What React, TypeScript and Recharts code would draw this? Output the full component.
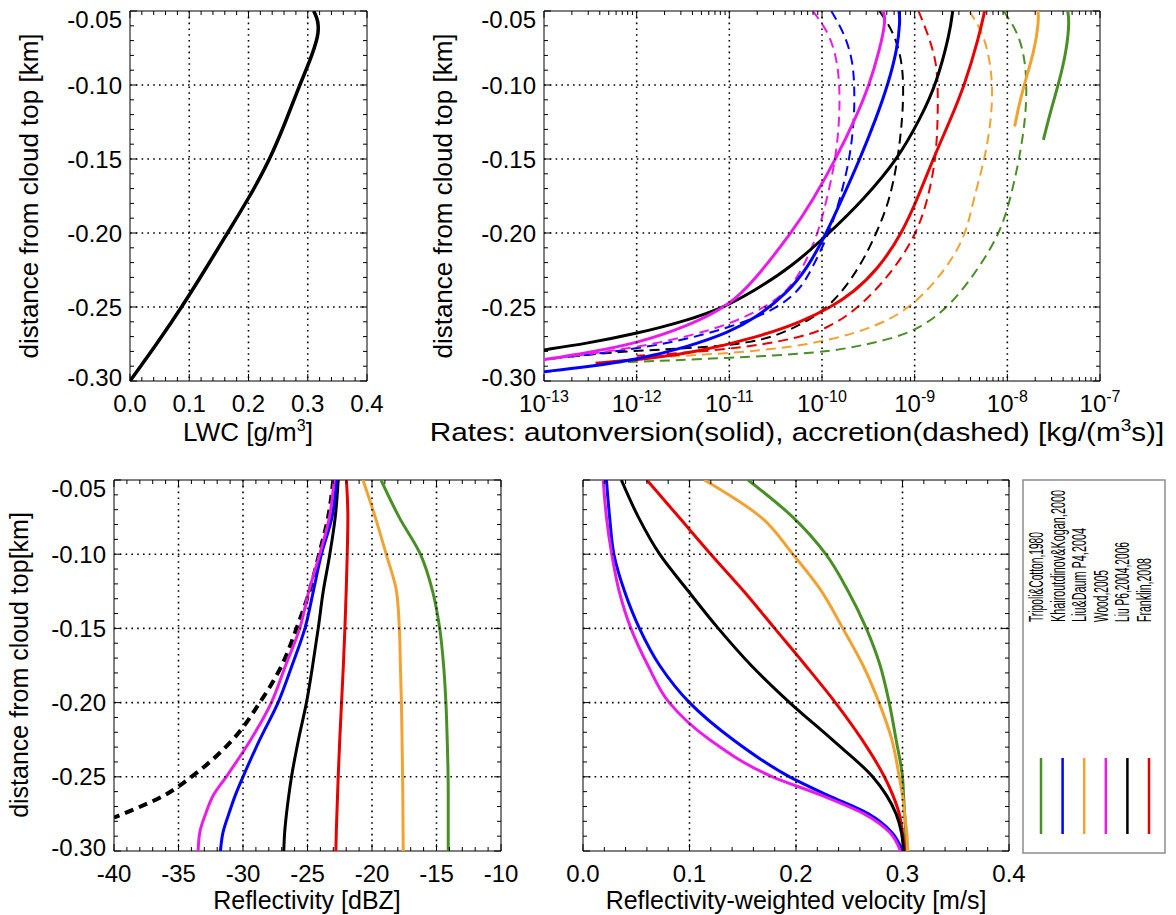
import React from 'react';
import { ScatterChart, Scatter, XAxis, YAxis, ReferenceArea } from 'recharts';

const FONT = '"Liberation Sans", Arial, Helvetica, sans-serif';

// ---------- colours / legend ----------
const legendNames = [
  'Tripoli&Cotton,1980',
  'Khairoutdinov&Kogan,2000',
  'Liu&Daum P4,2004',
  'Wood,2005',
  'Liu P6,2004,2006',
  'Franklin,2008',
];
const legendLengths = [90, 132, 94, 52, 80, 64];
const GREEN = '#4a8f26';
const BLUE = '#0000ff';
const ORANGE = '#f0a232';
const MAGENTA = '#e81ee8';
const BLACK = '#000000';
const RED = '#e60000';
const legendColors = [GREEN, BLUE, ORANGE, MAGENTA, BLACK, RED];

// ---------- axis ticks ----------
const heightTicks = [-0.3, -0.25, -0.2, -0.15, -0.1, -0.05];
const lwcTicks = [0, 0.1, 0.2, 0.3, 0.4];
const rateTicks = [1e-13, 1e-12, 1e-11, 1e-10, 1e-9, 1e-8, 1e-7];
const dbzTicks = [-40, -35, -30, -25, -20, -15, -10];
const velTicks = [0, 0.1, 0.2, 0.3, 0.4];

// ---------- panel 1: LWC ----------
const lwcHeights = [-0.05, -0.055, -0.06, -0.065, -0.07, -0.08, -0.09, -0.1, -0.125, -0.15, -0.175, -0.2, -0.225, -0.25, -0.275, -0.29, -0.3];
const lwcValues = [0.31, 0.316, 0.318, 0.3175, 0.315, 0.307, 0.297, 0.2865, 0.2625, 0.2365, 0.2027, 0.1645, 0.1265, 0.0875, 0.045, 0.018, 0.0];

// ---------- panel 2: rates (autoconversion solid, accretion dashed) ----------
const tripoliAutoZ = [-0.05, -0.0563, -0.0766, -0.1, -0.117, -0.137];
const tripoliAuto = [4.47e-8, 4.68e-8, 4.37e-8, 3.55e-8, 2.95e-8, 2.45e-8];
const liuDaumAutoZ = [-0.05, -0.0563, -0.0766, -0.1, -0.117, -0.128];
const liuDaumAuto = [2.14e-8, 2.19e-8, 1.97e-8, 1.51e-8, 1.3e-8, 1.2e-8];
const khairAutoZ = [-0.05, -0.0563, -0.0766, -0.1, -0.1216, -0.15, -0.178, -0.2, -0.223, -0.241, -0.258, -0.267, -0.277, -0.2855, -0.2905, -0.2937];
const khairAuto = [6.76e-10, 7.0e-10, 6.46e-10, 5.13e-10, 3.89e-10, 2.57e-10, 1.62e-10, 1.12e-10, 7.08e-11, 4.17e-11, 1.86e-11, 1.0e-11, 3.55e-12, 1.0e-12, 2.88e-13, 1.0e-13];
const woodAutoZ = [-0.05, -0.0563, -0.0766, -0.1, -0.1216, -0.15, -0.178, -0.2, -0.232, -0.249, -0.263, -0.2746, -0.281, -0.2855];
const woodAuto = [4.57e-10, 4.9e-10, 4.17e-10, 3.24e-10, 2.34e-10, 1.41e-10, 7.94e-11, 4.68e-11, 1.86e-11, 1.0e-11, 3.55e-12, 1.0e-12, 2.88e-13, 1.0e-13];
const liuP6AutoZ = [-0.05, -0.065, -0.1, -0.1216, -0.15, -0.178, -0.2, -0.223, -0.239, -0.25, -0.259, -0.268, -0.2746, -0.279];
const liuP6Auto = [2.57e-9, 2.4e-9, 1.7e-9, 1.17e-9, 6.61e-10, 2.75e-10, 1.2e-10, 4.68e-11, 1.86e-11, 8.9e-12, 3.55e-12, 1.0e-12, 2.88e-13, 1.0e-13];
const franklinAutoZ = [-0.05, -0.0676, -0.1, -0.125, -0.15, -0.175, -0.2, -0.225, -0.24, -0.25, -0.26, -0.27, -0.28, -0.285, -0.288];
const franklinAuto = [5.69e-9, 4.94e-9, 3.47e-9, 2.37e-9, 1.58e-9, 1.1e-9, 7.36e-10, 3.96e-10, 2.18e-10, 1.26e-10, 6.0e-11, 2.11e-11, 4.75e-12, 1.37e-12, 3.6e-13];

const tripoliAccrZ = [-0.05, -0.065, -0.083, -0.1, -0.1216, -0.15, -0.178, -0.2, -0.223, -0.25, -0.268, -0.276, -0.281, -0.2845, -0.2875];
const tripoliAccr = [9.12e-9, 1.32e-8, 1.55e-8, 1.62e-8, 1.58e-8, 1.35e-8, 1.07e-8, 8.32e-9, 5.01e-9, 2.4e-9, 9.55e-10, 2.75e-10, 1.0e-10, 1.0e-11, 6.3e-13];
const liuDaumAccrZ = [-0.05, -0.065, -0.083, -0.1, -0.1216, -0.15, -0.178, -0.2, -0.223, -0.25, -0.263, -0.272, -0.2785, -0.2825, -0.2845];
const liuDaumAccr = [3.89e-9, 5.5e-9, 6.46e-9, 6.92e-9, 6.76e-9, 5.75e-9, 4.27e-9, 3.63e-9, 2.29e-9, 9.55e-10, 3.89e-10, 1.32e-10, 3.47e-11, 5.0e-12, 1.0e-12];
const franklinAccrZ = [-0.05, -0.065, -0.083, -0.1, -0.1216, -0.15, -0.178, -0.2, -0.223, -0.25, -0.265, -0.271, -0.2765, -0.281, -0.283];
const franklinAccr = [1.1e-9, 1.38e-9, 1.7e-9, 1.78e-9, 1.78e-9, 1.7e-9, 1.38e-9, 1.05e-9, 6.31e-10, 2.63e-10, 1.12e-10, 5.25e-11, 1.86e-11, 3.55e-12, 1.0e-12];
const liuP6AccrZ = [-0.05, -0.065, -0.083, -0.1, -0.1216, -0.15, -0.178, -0.2, -0.223, -0.25, -0.265, -0.2746, -0.278, -0.28, -0.2835];
const liuP6Accr = [4.17e-10, 6.03e-10, 7.24e-10, 7.59e-10, 7.41e-10, 6.61e-10, 5.37e-10, 3.89e-10, 2.57e-10, 1.26e-10, 4.9e-11, 1.86e-11, 3.55e-12, 6.61e-13, 2.0e-13];
const khairAccrZ = [-0.05, -0.065, -0.083, -0.1, -0.1216, -0.15, -0.178, -0.2, -0.223, -0.238, -0.252, -0.264, -0.274, -0.28, -0.2855];
const khairAccr = [1.26e-10, 1.74e-10, 2.14e-10, 2.24e-10, 2.24e-10, 2.0e-10, 1.55e-10, 1.2e-10, 7.94e-11, 5.89e-11, 3.16e-11, 1.0e-11, 2.51e-12, 6.31e-13, 1.0e-13];
const woodAccrZ = [-0.05, -0.065, -0.083, -0.1, -0.1216, -0.15, -0.178, -0.2, -0.223, -0.241, -0.255, -0.266, -0.275, -0.281, -0.2855];
const woodAccr = [7.94e-11, 1.2e-10, 1.45e-10, 1.55e-10, 1.55e-10, 1.41e-10, 1.12e-10, 9.12e-11, 6.31e-11, 4.17e-11, 1.78e-11, 6.31e-12, 1.58e-12, 3.98e-13, 1.0e-13];

// ---------- panels 3 & 4: reflectivity and velocity ----------
const profileHeights = [-0.05, -0.075, -0.1, -0.125, -0.15, -0.175, -0.2, -0.225, -0.25, -0.2625, -0.275, -0.2875, -0.3];
const dbzTripoli = [-19.3, -17.9, -16.25, -15.3, -14.75, -14.45, -14.27, -14.17, -14.1, -14.09, -14.09, -14.09, -14.09];
const dbzLiuDaum = [-20.7, -19.75, -18.9, -18.1, -17.88, -17.8, -17.72, -17.67, -17.63, -17.61, -17.6, -17.59, -17.58];
const dbzFranklin = [-21.98, -21.87, -21.92, -22.0, -22.1, -22.22, -22.36, -22.5, -22.62, -22.67, -22.72, -22.77, -22.8];
const dbzLiuP6 = [-22.62, -22.85, -23.27, -23.78, -24.17, -24.6, -25.08, -25.7, -26.24, -26.45, -26.63, -26.77, -26.84];
const dbzKhair = [-22.75, -23.1, -23.92, -24.55, -25.2, -26.2, -27.28, -28.7, -30.0, -30.6, -31.1, -31.55, -31.75];
const dbzWood = [-22.93, -23.3, -24.05, -24.9, -25.6, -26.7, -27.8, -29.4, -31.3, -32.3, -32.9, -33.35, -33.48];
const dbzDashedHeights = [-0.05, -0.075, -0.1, -0.125, -0.15, -0.175, -0.2, -0.225, -0.25, -0.2625, -0.275, -0.2775];
const dbzDashed = [-23.0, -23.4, -24.1, -24.85, -25.85, -27.0, -28.7, -30.8, -34.0, -36.1, -39.3, -40.0];

const velTripoli = [0.155, 0.197, 0.228, 0.249, 0.266, 0.279, 0.2875, 0.294, 0.3, 0.301, 0.302, 0.303, 0.303];
const velLiuDaum = [0.114, 0.167, 0.197, 0.224, 0.244, 0.263, 0.278, 0.29, 0.297, 0.3, 0.302, 0.304, 0.305];
const velFranklin = [0.06, 0.09, 0.12, 0.151, 0.18, 0.209, 0.237, 0.262, 0.283, 0.291, 0.297, 0.3, 0.302];
const velLiuP6 = [0.036, 0.052, 0.072, 0.099, 0.127, 0.158, 0.194, 0.234, 0.272, 0.285, 0.294, 0.299, 0.301];
const velKhair = [0.022, 0.025, 0.029, 0.039, 0.053, 0.072, 0.1, 0.141, 0.194, 0.23, 0.268, 0.29, 0.3];
const velWood = [0.019, 0.022, 0.027, 0.034, 0.045, 0.061, 0.081, 0.119, 0.178, 0.224, 0.264, 0.288, 0.298];

// ---------- helpers ----------
type Pt = { x: number; y: number };
const toPts = (zs: number[], xs: number[]): Pt[] => zs.map((z, i) => ({ x: xs[i], y: z }));

const r4 = (v: number) => Math.round(v * 10000) / 10000;
const linMinor = (a: number, b: number, step: number) => {
  const out: number[] = [];
  const n = Math.round((b - a) / step);
  for (let i = 0; i <= n; i++) out.push(r4(a + i * step));
  return out;
};
const logMinor = () => {
  const out: number[] = [];
  for (let e = -13; e <= -7; e++) {
    for (let k = 1; k <= 9; k++) {
      const v = k * Math.pow(10, e);
      if (v <= 1.0001e-7) out.push(v);
    }
  }
  return out;
};

type Series = { data: Pt[]; color: string; width: number; dash?: string };

type PanelProps = {
  left: number; top: number; width: number; height: number;
  L: number; R: number; T: number; B: number;
  xDomain: [number, number];
  xTicks: number[];
  xMajors: number[];
  xLog?: boolean;
  xFmt: (v: number) => React.ReactNode;
  yTicks: number[];
  yMajors: number[];
  showYLabels: boolean;
  curve: 'basis' | 'monotoneY';
  series: Series[];
};

const EmptyShape = () => <g />;

const isIn = (v: number, arr: number[], log?: boolean) =>
  arr.some((m) => (log ? Math.abs(Math.log10(m) - Math.log10(v)) < 1e-6 : Math.abs(m - v) < 1e-6));

function Panel(p: PanelProps) {
  const l = p.L - p.left;
  const r = p.R - p.left;
  const t = p.T - p.top;
  const b = p.B - p.top;
  const xAxisH = p.top + p.height - p.B;

  const XTick = (props: any) => {
    const { payload } = props;
    const v = payload.value;
    const x = payload.coordinate ?? props.x;
    const major = isIn(v, p.xMajors, p.xLog);
    const edge = Math.abs(x - l) < 1.5 || Math.abs(x - r) < 1.5;
    const len = major ? 7 : 4;
    return (
      <g>
        {major && !edge && (
          <line x1={x} x2={x} y1={t} y2={b} stroke="#000" strokeWidth={1.6} strokeDasharray="1.6 4.2" />
        )}
        <line x1={x} x2={x} y1={b} y2={b - len} stroke="#000" strokeWidth={1} />
        <line x1={x} x2={x} y1={t} y2={t + len} stroke="#000" strokeWidth={1} />
        {major && (
          <text x={x} y={b + 31} textAnchor="middle" fontSize={24} fontFamily={FONT} fill="#000">
            {p.xFmt(v)}
          </text>
        )}
      </g>
    );
  };

  const YTick = (props: any) => {
    const { payload } = props;
    const v = payload.value;
    const y = payload.coordinate ?? props.y;
    const major = isIn(v, p.yMajors);
    const atTop = Math.abs(y - t) < 1.5;
    const atBottom = Math.abs(y - b) < 1.5;
    const len = major ? 7 : 4;
    const labelShift = atTop ? 8 : atBottom ? -4 : 0;
    return (
      <g>
        {major && !atTop && !atBottom && (
          <line x1={l} x2={r} y1={y} y2={y} stroke="#000" strokeWidth={1.6} strokeDasharray="1.6 4.2" />
        )}
        <line x1={l} x2={l + len} y1={y} y2={y} stroke="#000" strokeWidth={1} />
        <line x1={r - len} x2={r} y1={y} y2={y} stroke="#000" strokeWidth={1} />
        {major && p.showYLabels && (
          <text x={l - 8} y={y + labelShift} dy="0.36em" textAnchor="end" fontSize={24} fontFamily={FONT} fill="#000">
            {v.toFixed(2)}
          </text>
        )}
      </g>
    );
  };

  return (
    <div style={{ position: 'absolute', left: p.left, top: p.top, width: p.width, height: p.height }}>
      <ScatterChart
        width={p.width}
        height={p.height}
        margin={{ top: t, right: p.left + p.width - p.R, bottom: 0, left: 0 }}
      >
        <XAxis
          type="number"
          dataKey="x"
          domain={p.xDomain}
          scale={p.xLog ? 'log' : 'linear'}
          allowDataOverflow
          ticks={p.xTicks}
          interval={0}
          tick={XTick}
          tickLine={false}
          axisLine={false}
          height={xAxisH}
        />
        <YAxis
          type="number"
          dataKey="y"
          domain={[-0.3, -0.05]}
          allowDataOverflow
          ticks={p.yTicks}
          interval={0}
          tick={YTick}
          tickLine={false}
          axisLine={false}
          width={l}
        />
        {p.series.map((s, i) => (
          <Scatter
            key={i}
            data={s.data}
            fill={s.color}
            shape={EmptyShape}
            line={{ stroke: s.color, strokeWidth: s.width, strokeDasharray: s.dash, fill: 'none' }}
            lineType="joint"
            lineJointType={p.curve}
            isAnimationActive={false}
          />
        ))}
        <ReferenceArea
          x1={p.xDomain[0]}
          x2={p.xDomain[1]}
          y1={-0.3}
          y2={-0.05}
          fill="none"
          fillOpacity={0}
          stroke="#000"
          strokeWidth={1}
          ifOverflow="visible"
        />
      </ScatterChart>
    </div>
  );
}

const fmt1 = (v: number) => v.toFixed(1);
const fmtInt = (v: number) => String(Math.round(v));
const fmtPow = (v: number) => (
  <>
    <tspan>10</tspan>
    <tspan dy={-10} fontSize={16}>{String(Math.round(Math.log10(v)))}</tspan>
  </>
);

const yAll = linMinor(-0.3, -0.05, 0.01);

export default function App() {
  const DASH = '10 6';
  return (
    <div style={{ position: 'absolute', left: 0, top: 0, width: 1176, height: 915, background: '#fff', fontFamily: FONT, overflow: 'hidden' }}>
      <Panel
        left={0} top={-20} width={400} height={470}
        L={130} R={367} T={11} B={381}
        xDomain={[0, 0.4]} xTicks={linMinor(0, 0.4, 0.02)} xMajors={lwcTicks} xFmt={fmt1}
        yTicks={yAll} yMajors={heightTicks} showYLabels curve="basis"
        series={[{ data: toPts(lwcHeights, lwcValues), color: BLACK, width: 3.5 }]}
      />
      <Panel
        left={400} top={-20} width={776} height={470}
        L={544} R={1100} T={11} B={381}
        xDomain={[1e-13, 1e-7]} xTicks={logMinor()} xMajors={rateTicks} xLog xFmt={fmtPow}
        yTicks={yAll} yMajors={heightTicks} showYLabels curve="basis"
        series={[
          { data: toPts(tripoliAccrZ, tripoliAccr), color: GREEN, width: 2, dash: DASH },
          { data: toPts(liuDaumAccrZ, liuDaumAccr), color: ORANGE, width: 2, dash: DASH },
          { data: toPts(franklinAccrZ, franklinAccr), color: RED, width: 2, dash: DASH },
          { data: toPts(liuP6AccrZ, liuP6Accr), color: BLACK, width: 2, dash: DASH },
          { data: toPts(khairAccrZ, khairAccr), color: BLUE, width: 2, dash: DASH },
          { data: toPts(woodAccrZ, woodAccr), color: MAGENTA, width: 2, dash: DASH },
          { data: toPts(tripoliAutoZ, tripoliAuto), color: GREEN, width: 3 },
          { data: toPts(liuDaumAutoZ, liuDaumAuto), color: ORANGE, width: 3 },
          { data: toPts(franklinAutoZ, franklinAuto), color: RED, width: 3 },
          { data: toPts(liuP6AutoZ, liuP6Auto), color: BLACK, width: 3 },
          { data: toPts(khairAutoZ, khairAuto), color: BLUE, width: 3 },
          { data: toPts(woodAutoZ, woodAuto), color: MAGENTA, width: 3 },
        ]}
      />
      <Panel
        left={0} top={455} width={540} height={460}
        L={114} R={501} T={480} B={851}
        xDomain={[-40, -10]} xTicks={linMinor(-40, -10, 1)} xMajors={dbzTicks} xFmt={fmtInt}
        yTicks={yAll} yMajors={heightTicks} showYLabels curve="monotoneY"
        series={[
          { data: toPts(dbzDashedHeights, dbzDashed), color: BLACK, width: 4, dash: '9 6' },
          { data: toPts(profileHeights, dbzTripoli), color: GREEN, width: 3 },
          { data: toPts(profileHeights, dbzLiuDaum), color: ORANGE, width: 3 },
          { data: toPts(profileHeights, dbzFranklin), color: RED, width: 3 },
          { data: toPts(profileHeights, dbzLiuP6), color: BLACK, width: 3 },
          { data: toPts(profileHeights, dbzKhair), color: BLUE, width: 3 },
          { data: toPts(profileHeights, dbzWood), color: MAGENTA, width: 3 },
        ]}
      />
      <Panel
        left={540} top={455} width={490} height={460}
        L={583} R={1009} T={480} B={851}
        xDomain={[0, 0.4]} xTicks={linMinor(0, 0.4, 0.02)} xMajors={velTicks} xFmt={fmt1}
        yTicks={yAll} yMajors={heightTicks} showYLabels={false} curve="monotoneY"
        series={[
          { data: toPts(profileHeights, velTripoli), color: GREEN, width: 3 },
          { data: toPts(profileHeights, velLiuDaum), color: ORANGE, width: 3 },
          { data: toPts(profileHeights, velFranklin), color: RED, width: 3 },
          { data: toPts(profileHeights, velLiuP6), color: BLACK, width: 3 },
          { data: toPts(profileHeights, velKhair), color: BLUE, width: 3 },
          { data: toPts(profileHeights, velWood), color: MAGENTA, width: 3 },
        ]}
      />
      <svg
        width={1176}
        height={915}
        style={{ position: 'absolute', left: 0, top: 0, pointerEvents: 'none' }}
        fontFamily={FONT}
      >
        {/* axis titles */}
        <text x={248} y={441} textAnchor="middle" fontSize={26}>
          LWC [g/m<tspan dy={-10} fontSize={16}>3</tspan><tspan dy={10}>]</tspan>
        </text>
        <text transform="translate(38,196) rotate(-90)" textAnchor="middle" fontSize={26}>
          distance from cloud top [km]
        </text>
        <text transform="translate(452,196) rotate(-90)" textAnchor="middle" fontSize={26}>
          distance from cloud top [km]
        </text>
        <text transform="translate(797,441) scale(1.19,1)" textAnchor="middle" fontSize={25}>
          Rates: autonversion(solid), accretion(dashed) [kg/(m<tspan dy={-10} fontSize={16}>3</tspan><tspan dy={10}>s)]</tspan>
        </text>
        <text transform="translate(28,665) rotate(-90)" textAnchor="middle" fontSize={25}>
          distance from cloud top[km]
        </text>
        <text x={307} y={909} textAnchor="middle" fontSize={25}>
          Reflectivity [dBZ]
        </text>
        <text x={796} y={909} textAnchor="middle" fontSize={25}>
          Reflectivity-weighted velocity [m/s]
        </text>
        {/* legend */}
        <rect x={1023} y={480} width={142} height={373} fill="#fff" stroke="#8c8c8c" strokeWidth={1.5} />
        {legendNames.map((name, i) => {
          const cx = 1041 + i * 21.6;
          return (
            <g key={name}>
              <line x1={cx} x2={cx} y1={758} y2={834} stroke={legendColors[i]} strokeWidth={2.5} />
              <text
                transform={`translate(${cx + 2},622) rotate(-90)`}
                textAnchor="start"
                fontSize={20}
                textLength={legendLengths[i]}
                lengthAdjust="spacingAndGlyphs"
              >
                {name}
              </text>
            </g>
          );
        })}
      </svg>
    </div>
  );
}
